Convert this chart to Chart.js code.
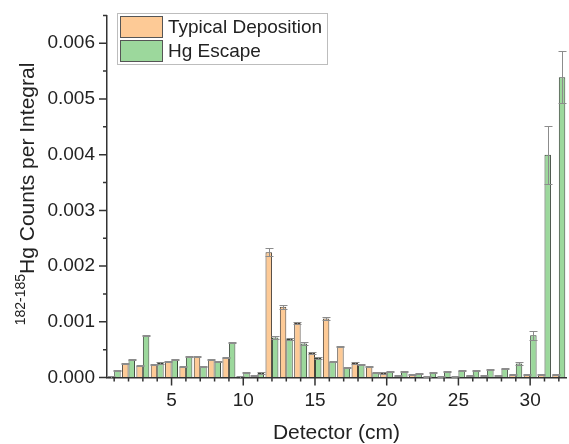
<!DOCTYPE html>
<html>
<head>
<meta charset="utf-8">
<script src="https://cdn.jsdelivr.net/npm/chart.js@4.4.0/dist/chart.umd.min.js"></script>
<style>
  html, body { margin: 0; padding: 0; background: #fff; }
  #wrap { width: 569px; height: 444px; }
</style>
</head>
<body>
<div id="wrap"><canvas id="chart1" width="569" height="444"></canvas></div>
<script>
'use strict';

var detectors = ['1', '2', '3', '4', '5', '6', '7', '8', '9', '10', '11', '12', '13', '14', '15', '16',
  '17', '18', '19', '20', '21', '22', '23', '24', '25', '26', '27', '28', '29', '30', '31', '32'];

var typicalDeposition = [0.00001, 0.00025, 0.00021, 0.00024, 0.00028, 0.00019, 0.00038, 0.00033,
  0.00036, 0.00001, 0.00003, 0.00225, 0.00127, 0.00098, 0.00044, 0.00106,
  0.00055, 0.00026, 0.00019, 0.00008, 0.00004, 0.00005, 0.00002, 0.00002,
  0.00002, 0.00004, 0.00004, 0.00004, 0.00006, 0.00006, 0.00005, 0.00006];

var typicalErr = [0.00001, 0.00001, 0.00001, 0.00001, 0.00001, 0.00001, 0.00001, 0.00001,
  0.00001, 0.00001, 0.00001, 0.00007, 0.00004, 0.00002, 0.00001, 0.00002,
  0.00001, 0.00001, 0.00001, 0.00001, 0.00001, 0.00001, 0.00001, 0.00001,
  0.00001, 0.00001, 0.00001, 0.00001, 0.00001, 0.00001, 0.00001, 0.00001];

var hgEscape = [0.00012, 0.00032, 0.00075, 0.00026, 0.00033, 0.00038, 0.00019, 0.00029,
  0.00063, 0.00009, 0.00008, 0.00072, 0.00069, 0.00061, 0.00035, 0.00028,
  0.00018, 0.00023, 0.00009, 0.00011, 0.00011, 0.00007, 0.00009, 0.00010,
  0.00012, 0.00012, 0.00015, 0.00016, 0.00025, 0.00076, 0.00400, 0.00539];

var hgEscapeErr = [0.00001, 0.00001, 0.00001, 0.00001, 0.00001, 0.00001, 0.00001, 0.00001,
  0.00001, 0.00001, 0.00001, 0.00002, 0.00002, 0.00002, 0.00001, 0.00001,
  0.00001, 0.00001, 0.00001, 0.00001, 0.00001, 0.00001, 0.00001, 0.00001,
  0.00001, 0.00001, 0.00001, 0.00001, 0.00002, 0.00008, 0.00052, 0.00047];

var yMajorTicks = [0, 0.001, 0.002, 0.003, 0.004, 0.005, 0.006];
var xMajorTicks = [5, 10, 15, 20, 25, 30];

var FONT = "'Liberation Sans', Arial, sans-serif";
var INK = '#222';
var AXIS = '#333';

// error bars drawn on top of each bar
var errorBars = {
  id: 'errorBars',
  afterDatasetsDraw: function (chart) {
    var ctx = chart.ctx;
    var y = chart.scales.y;
    var errs = [typicalErr, hgEscapeErr];
    ctx.save();
    ctx.strokeStyle = '#8c8c8c';
    ctx.lineWidth = 1;
    chart.data.datasets.forEach(function (ds, i) {
      var meta = chart.getDatasetMeta(i);
      meta.data.forEach(function (bar, j) {
        var v = ds.data[j];
        var e = errs[i][j];
        var top = Math.round(y.getPixelForValue(v + e)) + 0.5;
        var bot = Math.round(y.getPixelForValue(Math.max(v - e, 0))) + 0.5;
        var x = Math.round(bar.x) + 0.5;
        ctx.beginPath();
        ctx.moveTo(x, top); ctx.lineTo(x, bot);
        ctx.moveTo(x - 4, top); ctx.lineTo(x + 4, top);
        ctx.moveTo(x - 4, bot); ctx.lineTo(x + 4, bot);
        ctx.stroke();
      });
    });
    ctx.restore();
  }
};

// tick marks (major + minor), axis titles and the boxed legend
var decorations = {
  id: 'decorations',
  afterDraw: function (chart) {
    var ctx = chart.ctx;
    var xs = chart.scales.x, ys = chart.scales.y;
    var area = chart.chartArea;
    ctx.save();
    ctx.strokeStyle = AXIS;
    ctx.lineWidth = 1.5;
    ctx.beginPath();
    var v, p;
    for (v = 0; v <= 0.0065 + 1e-9; v += 0.0005) {
      p = ys.getPixelForValue(v);
      var major = Math.abs(v * 1000 - Math.round(v * 1000)) < 1e-6;
      ctx.moveTo(area.left, p);
      ctx.lineTo(area.left - (major ? 8 : 4), p);
    }
    detectors.forEach(function (d, i) {
      p = xs.getPixelForValue(i);
      var major = xMajorTicks.indexOf(+d) >= 0;
      ctx.moveTo(p, area.bottom);
      ctx.lineTo(p, area.bottom + (major ? 8 : 4));
    });
    ctx.stroke();

    // x title
    ctx.fillStyle = INK;
    ctx.font = '21px ' + FONT;
    ctx.textAlign = 'center';
    ctx.textBaseline = 'middle';
    ctx.fillText('Detector (cm)', (area.left + area.right) / 2, 433);

    // y title with superscript mass range
    var sup = '182-185', main = 'Hg Counts per Integral';
    ctx.font = '14px ' + FONT;
    var supW = ctx.measureText(sup).width;
    ctx.font = '21px ' + FONT;
    var mainW = ctx.measureText(main).width;
    ctx.translate(28, 194);
    ctx.rotate(-Math.PI / 2);
    ctx.textAlign = 'left';
    var start = -(supW + mainW) / 2;
    ctx.font = '14px ' + FONT;
    ctx.fillText(sup, start, -7);
    ctx.font = '21px ' + FONT;
    ctx.fillText(main, start + supW, 0);
    ctx.setTransform(1, 0, 0, 1, 0, 0);

    // legend
    ctx.lineWidth = 1;
    ctx.strokeStyle = '#bdbdbd';
    ctx.fillStyle = '#fff';
    ctx.fillRect(117.5, 13.5, 210, 51);
    ctx.strokeRect(117.5, 13.5, 210, 51);
    ctx.font = '19px ' + FONT;
    ctx.textAlign = 'left';
    ctx.textBaseline = 'middle';
    chart.data.datasets.forEach(function (ds, i) {
      var top = 16.5 + i * 24;
      ctx.fillStyle = ds.backgroundColor;
      ctx.fillRect(120.5, top, 42, 21);
      ctx.strokeStyle = '#555';
      ctx.strokeRect(120.5, top, 42, 21);
      ctx.fillStyle = INK;
      ctx.fillText(ds.label, 168, top + 11);
    });
    ctx.restore();
  }
};

new Chart(document.getElementById('chart1').getContext('2d'), {
  type: 'bar',
  data: {
    labels: detectors,
    datasets: [
      {
        label: 'Typical Deposition',
        data: typicalDeposition,
        backgroundColor: '#fdca96',
        borderColor: '#4a4036',
        borderWidth: 1
      },
      {
        label: 'Hg Escape',
        data: hgEscape,
        backgroundColor: '#9cd89c',
        borderColor: '#3a463a',
        borderWidth: 1
      }
    ]
  },
  options: {
    responsive: false,
    animation: false,
    layout: { padding: { top: 8, right: 3, left: 0, bottom: 0 } },
    datasets: { bar: { categoryPercentage: 0.9, barPercentage: 1.0 } },
    plugins: {
      legend: { display: false },
      tooltip: { enabled: false }
    },
    scales: {
      x: {
        offset: true,
        grid: { display: true, drawOnChartArea: false, color: 'rgba(0,0,0,0)', tickLength: 8 },
        border: { display: true, color: AXIS, width: 1.5 },
        ticks: {
          autoSkip: false,
          maxRotation: 0,
          padding: 4,
          color: INK,
          font: { family: FONT, size: 19 },
          callback: function (val, i) {
            var n = +detectors[i];
            return xMajorTicks.indexOf(n) >= 0 ? String(n) : '';
          }
        },
        afterFit: function (scale) { scale.height = 66.5; }
      },
      y: {
        min: 0,
        max: 0.0065,
        grid: { display: true, drawOnChartArea: false, color: 'rgba(0,0,0,0)', tickLength: 8 },
        border: { display: true, color: AXIS, width: 1.5 },
        ticks: {
          stepSize: 0.001,
          padding: 4,
          color: INK,
          font: { family: FONT, size: 19 },
          callback: function (v) {
            var k = v * 1000;
            return Math.abs(k - Math.round(k)) < 1e-6 && yMajorTicks.indexOf(Math.round(k) / 1000) >= 0 ? v.toFixed(3) : '';
          }
        },
        afterFit: function (scale) { scale.width = 107; }
      }
    }
  },
  plugins: [errorBars, decorations]
});
</script>
</body>
</html>
